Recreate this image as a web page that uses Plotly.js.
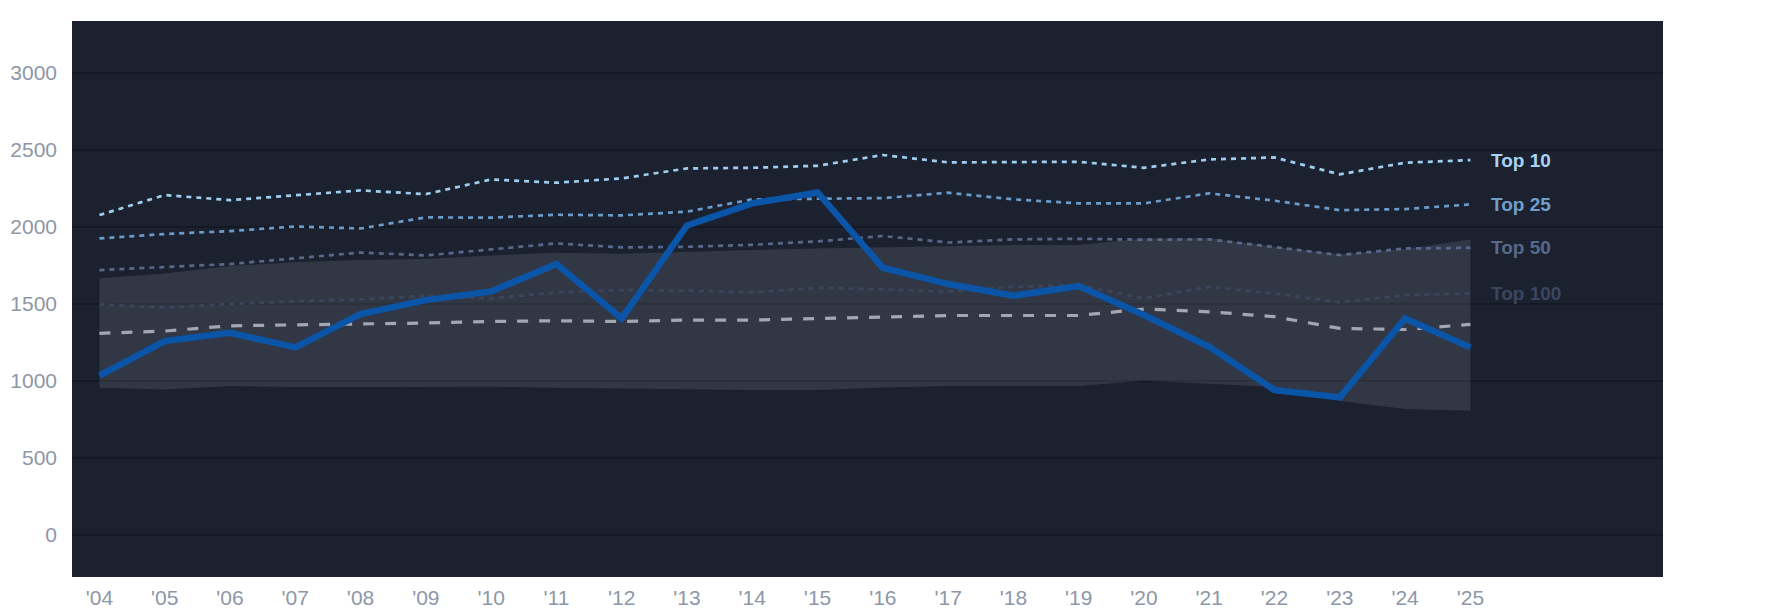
<!DOCTYPE html>
<html>
<head>
<meta charset="utf-8">
<script src="https://cdn.plot.ly/plotly-3.0.1.min.js"></script>
<style>
  html, body { margin: 0; padding: 0; background: #ffffff; }
  #chart { width: 1785px; height: 614px; }
</style>
</head>
<body>
<div id="chart"></div>
<script>
// Colours
const PLOT_BG = "#1c2130";
const GRID_COLOR = "#151924";
const TICK_COLOR = "#8e96a8";
const MAIN_COLOR = "#0a55a8";
const MEDIAN_COLOR = "#a2a7b2";
const BAND_FILL = "rgba(160,165,180,0.17)";
const FONT = "'Liberation Sans', Arial, sans-serif";

// Data
const years = [2004, 2005, 2006, 2007, 2008, 2009, 2010, 2011, 2012, 2013, 2014,
  2015, 2016, 2017, 2018, 2019, 2020, 2021, 2022, 2023, 2024, 2025];
const yearLabels = ["'04", "'05", "'06", "'07", "'08", "'09", "'10", "'11", "'12",
  "'13", "'14", "'15", "'16", "'17", "'18", "'19", "'20", "'21", "'22", "'23",
  "'24", "'25"];

const mainValues = [1035, 1260, 1314, 1219, 1435, 1526, 1582, 1760, 1407, 2011,
  2154, 2225, 1736, 1630, 1554, 1617, 1429, 1223, 942, 894, 1407, 1219];
const medianValues = [1310, 1325, 1359, 1364, 1372, 1377, 1387, 1392, 1387, 1396,
  1396, 1405, 1413, 1426, 1426, 1426, 1468, 1450, 1418, 1342, 1335, 1368];
const bandHigh = [1667, 1699, 1747, 1771, 1786, 1792, 1816, 1833, 1827, 1840,
  1851, 1861, 1868, 1879, 1883, 1883, 1926, 1927, 1872, 1823, 1857, 1920];
const bandLow = [957, 946, 968, 961, 961, 961, 963, 957, 952, 946, 942, 942,
  959, 968, 968, 968, 1002, 981, 963, 870, 818, 807];

const top10 = [2078, 2208, 2175, 2205, 2238, 2214, 2309, 2288, 2316, 2381, 2385,
  2398, 2468, 2420, 2420, 2424, 2385, 2439, 2452, 2342, 2418, 2435];
const top25 = [1926, 1955, 1974, 2004, 1991, 2063, 2061, 2080, 2076, 2100, 2180,
  2186, 2188, 2223, 2180, 2154, 2154, 2219, 2171, 2110, 2117, 2147];
const top50 = [1721, 1742, 1760, 1797, 1835, 1816, 1855, 1894, 1868, 1872, 1885,
  1907, 1942, 1900, 1920, 1924, 1918, 1920, 1870, 1818, 1861, 1865];
const top100 = [1498, 1478, 1500, 1519, 1530, 1554, 1537, 1576, 1591, 1587, 1576,
  1606, 1595, 1582, 1612, 1623, 1537, 1612, 1569, 1511, 1558, 1569];

const tierNames = ["Top 10", "Top 25", "Top 50", "Top 100"];
const tierSeries = [top10, top25, top50, top100];
const tierLineColors = ["#9fcdee", "#6b9bc8", "#56698a", "#3b465e"];
const tierTextColors = ["#a9d3f3", "#6f9fcb", "#56698a", "#3a4660"];

const yTicks = [0, 500, 1000, 1500, 2000, 2500, 3000];

// band: lower edge first (invisible), then upper edge filled down to it
const traces = [
  {
    x: years, y: bandLow, type: "scatter", mode: "lines",
    line: { width: 0, color: "rgba(0,0,0,0)" }, hoverinfo: "skip",
  },
  {
    x: years, y: bandHigh, type: "scatter", mode: "lines", fill: "tonexty",
    fillcolor: BAND_FILL, line: { width: 0, color: "rgba(0,0,0,0)" },
    hoverinfo: "skip",
  },
];

// dotted tier lines, bottom tier first
for (let i = tierSeries.length - 1; i >= 0; i--) {
  traces.push({
    x: years, y: tierSeries[i], name: tierNames[i], type: "scatter",
    mode: "lines", line: { color: tierLineColors[i], width: 2.7, dash: "5px,5px" },
  });
}

traces.push({
  x: years, y: medianValues, name: "Median", type: "scatter", mode: "lines",
  line: { color: MEDIAN_COLOR, width: 3.2, dash: "11px,11px" },
});

traces.push({
  x: years, y: mainValues, name: "Score", type: "scatter", mode: "lines",
  line: { color: MAIN_COLOR, width: 6.5 },
});

// end-of-line labels for each tier
const lastIndex = years.length - 1;
const annotations = tierNames.map(function (name, i) {
  return {
    x: years[lastIndex], y: tierSeries[i][lastIndex], text: "<b>" + name + "</b>",
    xanchor: "left", yanchor: "middle", xshift: 19, showarrow: false,
    font: { family: FONT, size: 19, color: tierTextColors[i] },
  };
});

const layout = {
  width: 1785,
  height: 614,
  paper_bgcolor: "#ffffff",
  plot_bgcolor: PLOT_BG,
  showlegend: false,
  margin: { l: 72, r: 122, t: 21, b: 37 },
  font: { family: FONT, size: 21, color: TICK_COLOR },
  xaxis: {
    range: [2003.58, 2027.95],
    tickvals: years,
    ticktext: yearLabels,
    showgrid: false,
    zeroline: false,
    ticks: "",
    ticklabelstandoff: 6,
    tickfont: { family: FONT, size: 21, color: TICK_COLOR },
  },
  yaxis: {
    range: [-272, 3338],
    tickvals: yTicks,
    showgrid: true,
    gridcolor: GRID_COLOR,
    gridwidth: 2.5,
    zeroline: false,
    ticks: "",
    ticklabelstandoff: 14,
    tickfont: { family: FONT, size: 21, color: TICK_COLOR },
  },
  annotations: annotations,
};

Plotly.newPlot("chart", traces, layout, { displayModeBar: false, staticPlot: true });
</script>
</body>
</html>
